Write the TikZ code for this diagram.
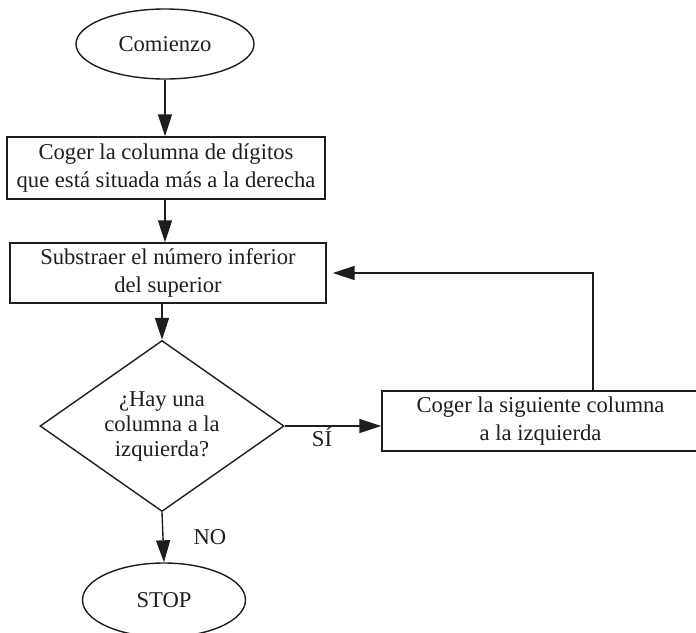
\documentclass[tikz,border=0pt]{standalone}
\usepackage{fontspec}
\setmainfont{Liberation Serif}
\usetikzlibrary{shapes.geometric,arrows.meta}
\definecolor{ink}{HTML}{1E1E1E}
\begin{document}
\begin{tikzpicture}[x=0.5pt,y=-0.5pt,
  every node/.style={font=\fontsize{11.3pt}{14pt}\selectfont, text=ink},
  terminal/.style={ellipse, draw=ink, line width=0.7pt, inner sep=0pt},
  stepbox/.style={rectangle, draw=ink, line width=0.7pt, inner sep=0pt, align=center},
  decision/.style={diamond, draw=ink, line width=0.7pt, inner sep=0pt, aspect=1.4, align=center,
    font=\fontsize{11.3pt}{12.5pt}\selectfont},
  flow/.style={draw=ink, line width=0.7pt, -{Triangle[length=11pt,width=7pt]}}]
\useasboundingbox[fill=white] (0,0) rectangle (696,632);

% nodes
\node[terminal, minimum width=89pt, minimum height=35pt] (start) at (165,44) {Comienzo};
\node[stepbox, minimum width=159pt, minimum height=31pt] (b1) at (166,168)
  {Coger la columna de dígitos\\que está situada más a la derecha};
\node[stepbox, minimum width=158pt, minimum height=30pt] (b2) at (168,273)
  {Substraer el número inferior\\del superior};
\node[decision, minimum width=122pt, minimum height=85.5pt] (q) at (162,426)
  {¿Hay una\\columna a la\\izquierda?};
\node[stepbox, minimum width=158.5pt, minimum height=30pt] (b3) at (540.5,421)
  {Coger la siguiente columna\\a la izquierda};
\node[terminal, minimum width=81.5pt, minimum height=37pt] (stop) at (164,600) {STOP};

% labels
\node (yes) at (322,437) {SÍ};
\node (no) at (210,537) {NO};

% connectors
\coordinate (loop) at (593,271);
\draw[flow] (start.south) -- (start.south |- b1.north);
\draw[flow] (b1.south -| start.south) -- (b2.north -| start.south);
\draw[flow] (b2.south -| q.north) -- (q.north);
\draw[flow] (q.east) -- (q.east -| b3.west);
\draw[flow, shorten >=3pt] (b3.north -| loop) |- (b2.east);
\draw[flow] (q.south) -- (stop.north);
\end{tikzpicture}
\end{document}
